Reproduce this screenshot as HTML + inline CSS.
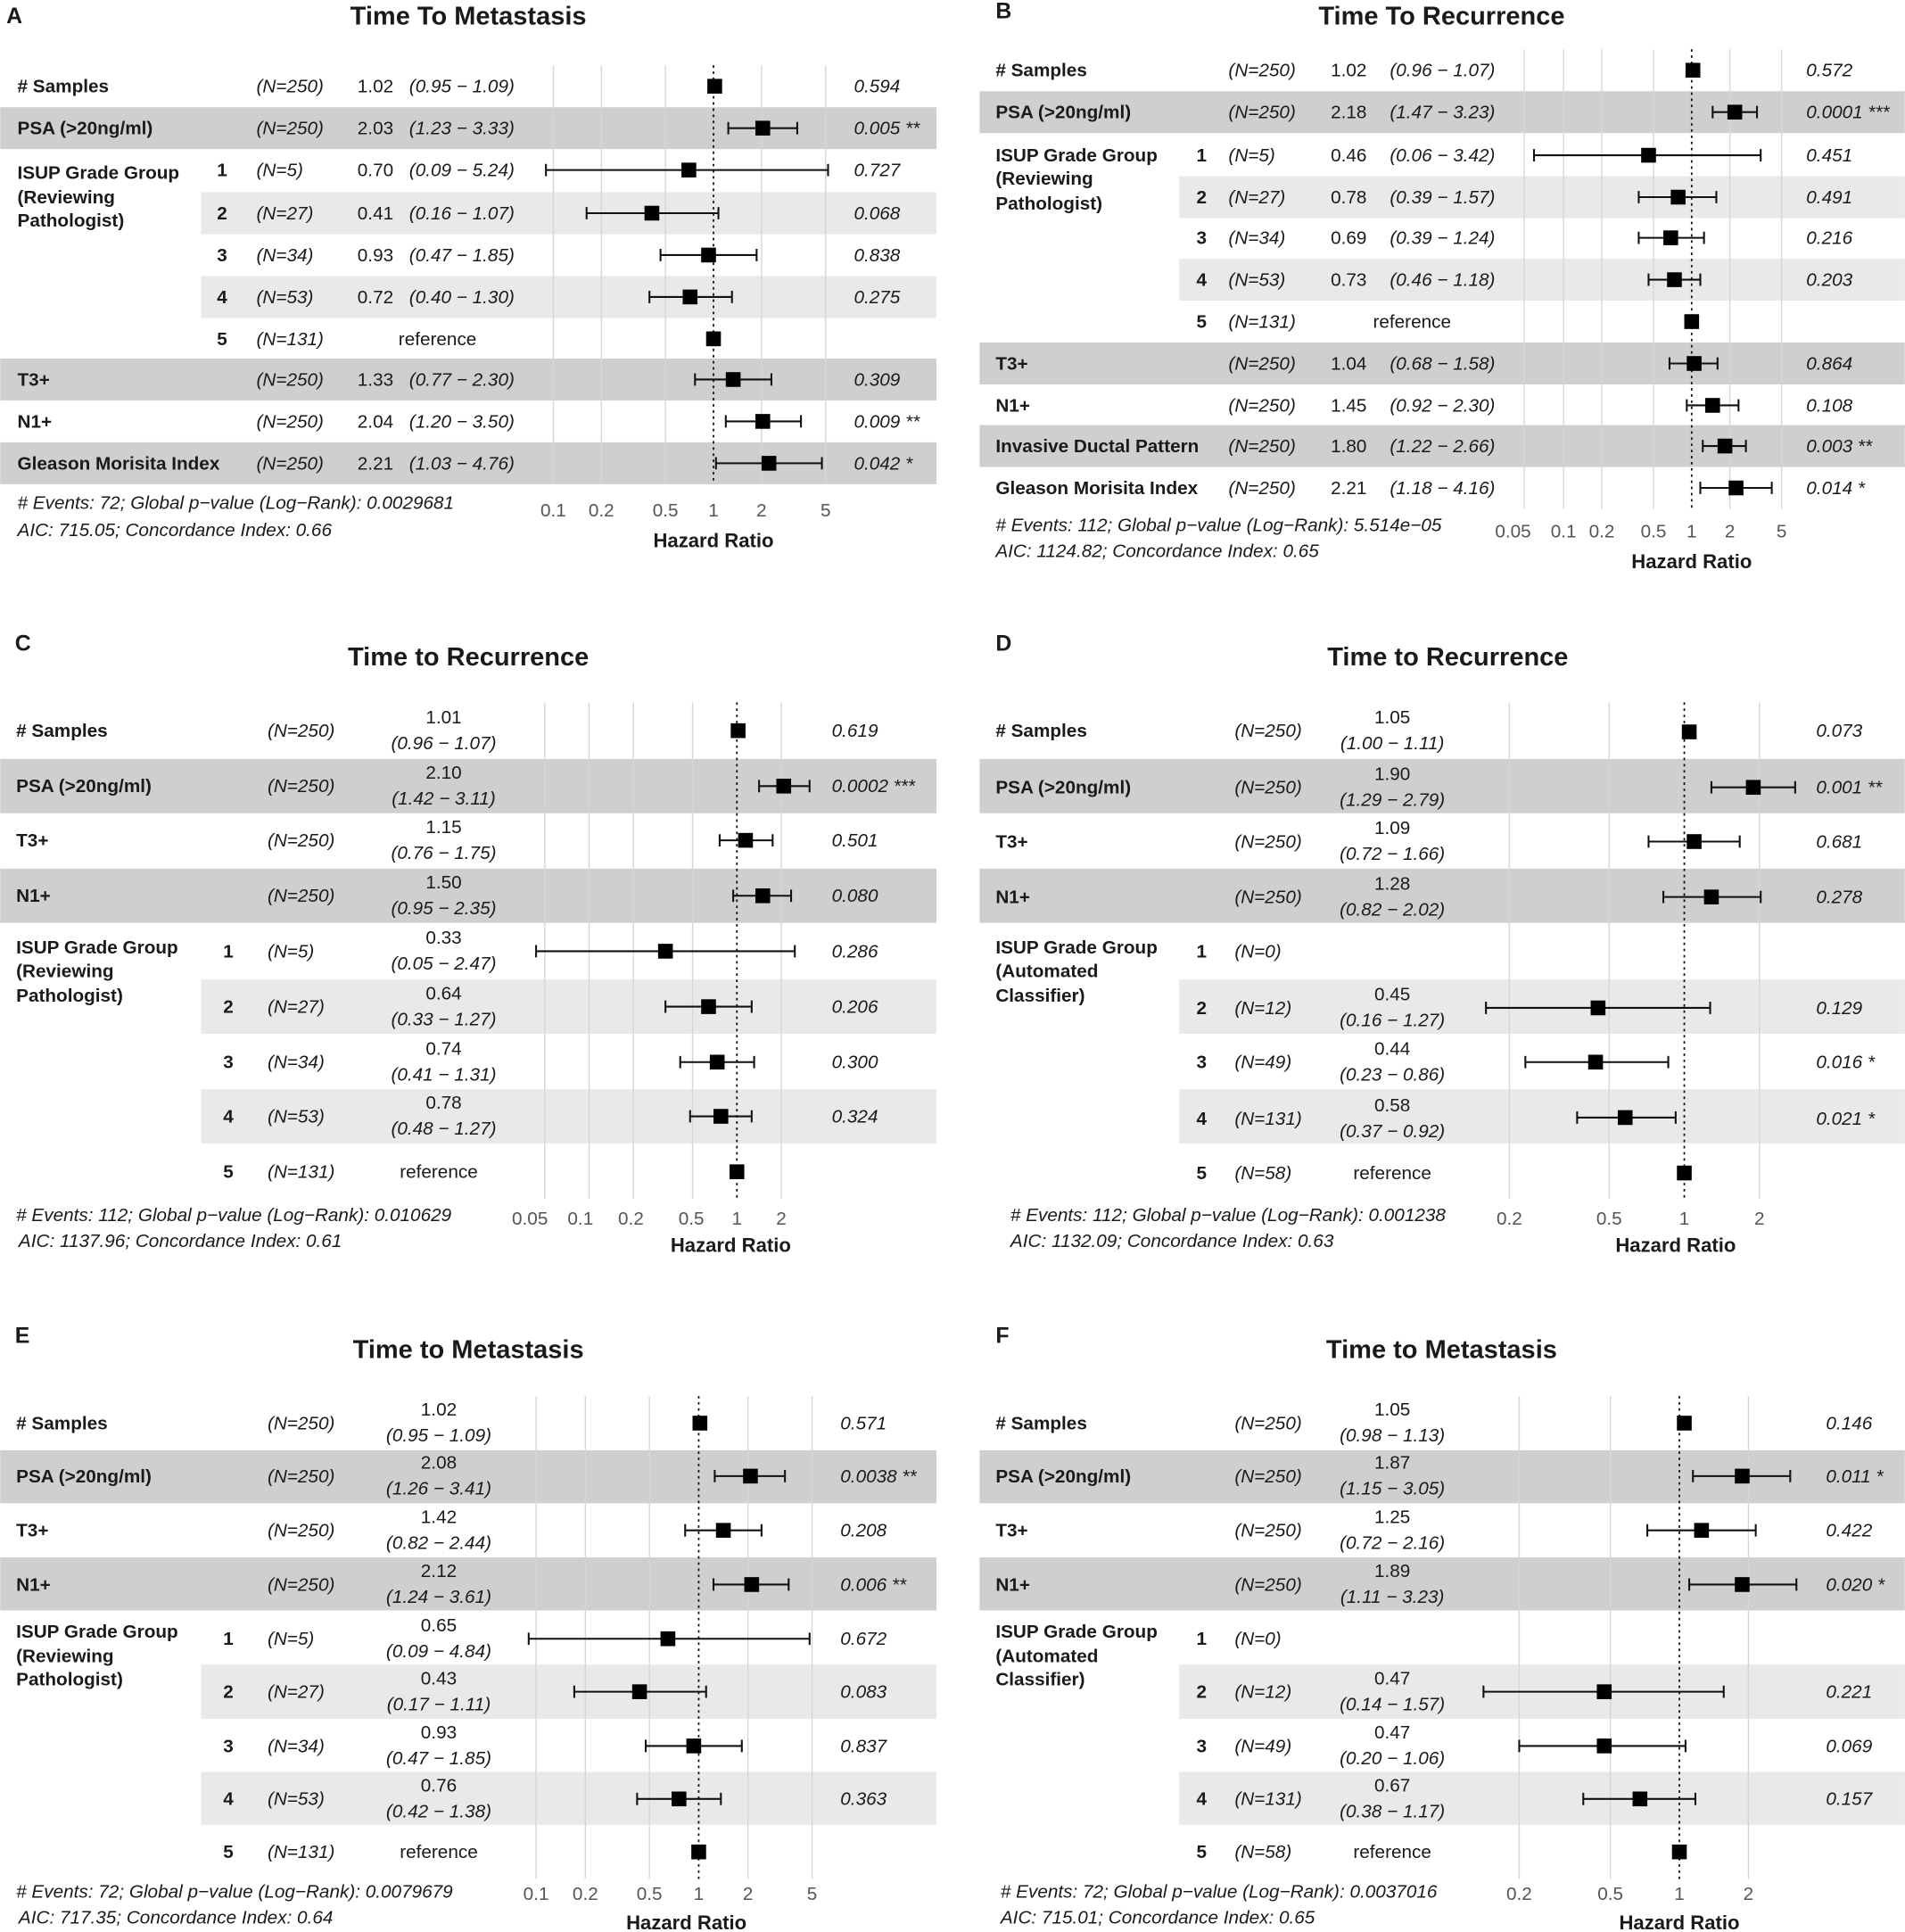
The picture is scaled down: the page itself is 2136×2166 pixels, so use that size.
<!DOCTYPE html>
<html><head><meta charset="utf-8"><style>
html,body{margin:0;padding:0;background:#fff}
svg{display:block}
text{font-family:"Liberation Sans",Arial,sans-serif;font-size:15px;fill:#1a1a1a}
.b{font-weight:bold}
.i{font-style:italic}
.ti{font-size:21px;font-weight:bold;text-anchor:middle}
.pl{font-size:18px;font-weight:bold}
.tk{fill:#555;text-anchor:middle;font-size:15px}
.hr{font-weight:bold;text-anchor:middle;font-size:16px}
.m{text-anchor:middle}
.g{stroke:#d6d6d6;stroke-width:1}
.z{stroke:#111;stroke-width:1.3;stroke-dasharray:2,3}
.e{stroke:#111;stroke-width:1.5;fill:none}
.dk{fill:#cfcfcf}
.lt{fill:#e9e9e9}
</style></head><body>
<svg width="2136" height="2166" viewBox="0 0 1546 1568" xmlns="http://www.w3.org/2000/svg">

<!-- ===== PANEL A ===== -->
<text x="5" y="19" class="pl">A</text>
<text x="380" y="20" class="ti">Time To Metastasis</text>
<rect class="dk" x="0" y="87" width="760" height="34"/>
<rect class="lt" x="163" y="156" width="597" height="34"/>
<rect class="lt" x="163" y="224" width="597" height="34"/>
<rect class="dk" x="0" y="291" width="760" height="34"/>
<rect class="dk" x="0" y="359" width="760" height="34"/>
<g>
<line class="g" x1="449" y1="53" x2="449" y2="393"/><line class="g" x1="488" y1="53" x2="488" y2="393"/>
<line class="g" x1="540" y1="53" x2="540" y2="393"/><line class="g" x1="618" y1="53" x2="618" y2="393"/>
<line class="g" x1="670" y1="53" x2="670" y2="393"/><line class="z" x1="579" y1="53" x2="579" y2="393"/>
</g>
<g>
<text x="14" y="75" class="b"># Samples</text><text x="208" y="75" class="i">(N=250)</text><text x="290" y="75">1.02</text><text x="332" y="75" class="i">(0.95 − 1.09)</text><text x="693" y="75" class="i">0.594</text>
<text x="14" y="109" class="b">PSA (&gt;20ng/ml)</text><text x="208" y="109" class="i">(N=250)</text><text x="290" y="109">2.03</text><text x="332" y="109" class="i">(1.23 − 3.33)</text><text x="693" y="109" class="i">0.005 **</text>
<text x="14" y="145" class="b">ISUP Grade Group</text><text x="14" y="165" class="b">(Reviewing</text><text x="14" y="184" class="b">Pathologist)</text>
<text x="176" y="143" class="b">1</text><text x="208" y="143" class="i">(N=5)</text><text x="290" y="143">0.70</text><text x="332" y="143" class="i">(0.09 − 5.24)</text><text x="693" y="143" class="i">0.727</text>
<text x="176" y="178" class="b">2</text><text x="208" y="178" class="i">(N=27)</text><text x="290" y="178">0.41</text><text x="332" y="178" class="i">(0.16 − 1.07)</text><text x="693" y="178" class="i">0.068</text>
<text x="176" y="212" class="b">3</text><text x="208" y="212" class="i">(N=34)</text><text x="290" y="212">0.93</text><text x="332" y="212" class="i">(0.47 − 1.85)</text><text x="693" y="212" class="i">0.838</text>
<text x="176" y="246" class="b">4</text><text x="208" y="246" class="i">(N=53)</text><text x="290" y="246">0.72</text><text x="332" y="246" class="i">(0.40 − 1.30)</text><text x="693" y="246" class="i">0.275</text>
<text x="176" y="280" class="b">5</text><text x="208" y="280" class="i">(N=131)</text><text x="355" y="280" class="m">reference</text>
<text x="14" y="313" class="b">T3+</text><text x="208" y="313" class="i">(N=250)</text><text x="290" y="313">1.33</text><text x="332" y="313" class="i">(0.77 − 2.30)</text><text x="693" y="313" class="i">0.309</text>
<text x="14" y="347" class="b">N1+</text><text x="208" y="347" class="i">(N=250)</text><text x="290" y="347">2.04</text><text x="332" y="347" class="i">(1.20 − 3.50)</text><text x="693" y="347" class="i">0.009 **</text>
<text x="14" y="381" class="b">Gleason Morisita Index</text><text x="208" y="381" class="i">(N=250)</text><text x="290" y="381">2.21</text><text x="332" y="381" class="i">(1.03 − 4.76)</text><text x="693" y="381" class="i">0.042 *</text>
</g>
<path class="e" d="M591 104H647M591 99v10M647 99v10 M443 138H672M443 133v10M672 133v10 M476 173H583M476 168v10M583 168v10 M536 207H614M536 202v10M614 202v10 M527 241H594M527 236v10M594 236v10 M564 308H626M564 303v10M626 303v10 M589 342H650M589 337v10M650 337v10 M581 376H667M581 371v10M667 371v10"/>
<g fill="#000"><rect x="574" y="64" width="12" height="12"/><rect x="613" y="98" width="12" height="12"/><rect x="553" y="132" width="12" height="12"/><rect x="523" y="167" width="12" height="12"/><rect x="569" y="201" width="12" height="12"/><rect x="554" y="235" width="12" height="12"/><rect x="573" y="269" width="12" height="12"/><rect x="589" y="302" width="12" height="12"/><rect x="613" y="336" width="12" height="12"/><rect x="618" y="370" width="12" height="12"/></g>
<text x="14" y="413" class="i" font-size="14">
# Events: 72; Global p−value (Log−Rank): 0.0029681</text>
<text x="14" y="435" class="i" font-size="14">AIC: 715.05; Concordance Index: 0.66</text>
<text x="449" y="419" class="tk">0.1</text><text x="488" y="419" class="tk">0.2</text><text x="540" y="419" class="tk">0.5</text><text x="579" y="419" class="tk">1</text><text x="618" y="419" class="tk">2</text><text x="670" y="419" class="tk">5</text>
<text x="579" y="444" class="hr">Hazard Ratio</text>

<!-- ===== PANEL B ===== -->
<text x="808" y="15" class="pl">B</text>
<text x="1170" y="20" class="ti">Time To Recurrence</text>
<rect class="dk" x="795" y="74" width="751" height="34"/>
<rect class="lt" x="957" y="143" width="589" height="34"/>
<rect class="lt" x="957" y="210" width="589" height="34"/>
<rect class="dk" x="795" y="278" width="751" height="34"/>
<rect class="dk" x="795" y="345" width="751" height="34"/>
<g>
<line class="g" x1="1237" y1="40" x2="1237" y2="413"/><line class="g" x1="1269" y1="40" x2="1269" y2="413"/><line class="g" x1="1300" y1="40" x2="1300" y2="413"/>
<line class="g" x1="1342" y1="40" x2="1342" y2="413"/><line class="g" x1="1404" y1="40" x2="1404" y2="413"/><line class="g" x1="1446" y1="40" x2="1446" y2="413"/>
<line class="z" x1="1373" y1="40" x2="1373" y2="413"/>
</g>
<g>
<text x="808" y="62" class="b"># Samples</text><text x="997" y="62" class="i">(N=250)</text><text x="1080" y="62">1.02</text><text x="1128" y="62" class="i">(0.96 − 1.07)</text><text x="1466" y="62" class="i">0.572</text>
<text x="808" y="96" class="b">PSA (&gt;20ng/ml)</text><text x="997" y="96" class="i">(N=250)</text><text x="1080" y="96">2.18</text><text x="1128" y="96" class="i">(1.47 − 3.23)</text><text x="1466" y="96" class="i">0.0001 ***</text>
<text x="808" y="131" class="b">ISUP Grade Group</text><text x="808" y="150" class="b">(Reviewing</text><text x="808" y="170" class="b">Pathologist)</text>
<text x="971" y="131" class="b">1</text><text x="997" y="131" class="i">(N=5)</text><text x="1080" y="131">0.46</text><text x="1128" y="131" class="i">(0.06 − 3.42)</text><text x="1466" y="131" class="i">0.451</text>
<text x="971" y="165" class="b">2</text><text x="997" y="165" class="i">(N=27)</text><text x="1080" y="165">0.78</text><text x="1128" y="165" class="i">(0.39 − 1.57)</text><text x="1466" y="165" class="i">0.491</text>
<text x="971" y="198" class="b">3</text><text x="997" y="198" class="i">(N=34)</text><text x="1080" y="198">0.69</text><text x="1128" y="198" class="i">(0.39 − 1.24)</text><text x="1466" y="198" class="i">0.216</text>
<text x="971" y="232" class="b">4</text><text x="997" y="232" class="i">(N=53)</text><text x="1080" y="232">0.73</text><text x="1128" y="232" class="i">(0.46 − 1.18)</text><text x="1466" y="232" class="i">0.203</text>
<text x="971" y="266" class="b">5</text><text x="997" y="266" class="i">(N=131)</text><text x="1146" y="266" class="m">reference</text>
<text x="808" y="300" class="b">T3+</text><text x="997" y="300" class="i">(N=250)</text><text x="1080" y="300">1.04</text><text x="1128" y="300" class="i">(0.68 − 1.58)</text><text x="1466" y="300" class="i">0.864</text>
<text x="808" y="334" class="b">N1+</text><text x="997" y="334" class="i">(N=250)</text><text x="1080" y="334">1.45</text><text x="1128" y="334" class="i">(0.92 − 2.30)</text><text x="1466" y="334" class="i">0.108</text>
<text x="808" y="367" class="b">Invasive Ductal Pattern</text><text x="997" y="367" class="i">(N=250)</text><text x="1080" y="367">1.80</text><text x="1128" y="367" class="i">(1.22 − 2.66)</text><text x="1466" y="367" class="i">0.003 **</text>
<text x="808" y="401" class="b">Gleason Morisita Index</text><text x="997" y="401" class="i">(N=250)</text><text x="1080" y="401">2.21</text><text x="1128" y="401" class="i">(1.18 − 4.16)</text><text x="1466" y="401" class="i">0.014 *</text>
</g>
<path class="e" d="M1390 91H1426M1390 86v10M1426 86v10 M1245 126H1429M1245 121v10M1429 121v10 M1330 160H1393M1330 155v10M1393 155v10 M1330 193H1383M1330 188v10M1383 188v10 M1338 227H1380M1338 222v10M1380 222v10 M1355 295H1394M1355 290v10M1394 290v10 M1369 329H1411M1369 324v10M1411 324v10 M1382 362H1417M1382 357v10M1417 357v10 M1380 396H1438M1380 391v10M1438 391v10"/>
<g fill="#000"><rect x="1368" y="51" width="12" height="12"/><rect x="1402" y="85" width="12" height="12"/><rect x="1332" y="120" width="12" height="12"/><rect x="1356" y="154" width="12" height="12"/><rect x="1350" y="187" width="12" height="12"/><rect x="1353" y="221" width="12" height="12"/><rect x="1367" y="255" width="12" height="12"/><rect x="1369" y="289" width="12" height="12"/><rect x="1384" y="323" width="12" height="12"/><rect x="1394" y="356" width="12" height="12"/><rect x="1403" y="390" width="12" height="12"/></g>
<text x="808" y="431" class="i" font-size="14"># Events: 112; Global p−value (Log−Rank): 5.514e−05</text>
<text x="808" y="452" class="i" font-size="14">AIC: 1124.82; Concordance Index: 0.65</text>
<text x="1228" y="436" class="tk">0.05</text><text x="1269" y="436" class="tk">0.1</text><text x="1300" y="436" class="tk">0.2</text><text x="1342" y="436" class="tk">0.5</text><text x="1373" y="436" class="tk">1</text><text x="1404" y="436" class="tk">2</text><text x="1446" y="436" class="tk">5</text>
<text x="1373" y="461" class="hr">Hazard Ratio</text>

<!-- ===== PANEL C ===== -->
<text x="12" y="528" class="pl">C</text>
<text x="380" y="540" class="ti">Time to Recurrence</text>
<rect class="dk" x="0" y="616" width="760" height="44"/>
<rect class="dk" x="0" y="705" width="760" height="44"/>
<rect class="lt" x="163" y="795" width="597" height="44"/>
<rect class="lt" x="163" y="884" width="597" height="44"/>
<g>
<line class="g" x1="442" y1="570" x2="442" y2="973"/><line class="g" x1="478" y1="570" x2="478" y2="973"/><line class="g" x1="514" y1="570" x2="514" y2="973"/>
<line class="g" x1="562" y1="570" x2="562" y2="973"/><line class="g" x1="634" y1="570" x2="634" y2="973"/>
<line class="z" x1="598" y1="570" x2="598" y2="973"/>
</g>
<g>
<text x="13" y="598" class="b"># Samples</text><text x="217" y="598" class="i">(N=250)</text><text x="360" y="587" class="m">1.01</text><text x="360" y="608" class="m i">(0.96 − 1.07)</text><text x="675" y="598" class="i">0.619</text>
<text x="13" y="643" class="b">PSA (&gt;20ng/ml)</text><text x="217" y="643" class="i">(N=250)</text><text x="360" y="632" class="m">2.10</text><text x="360" y="653" class="m i">(1.42 − 3.11)</text><text x="675" y="643" class="i">0.0002 ***</text>
<text x="13" y="687" class="b">T3+</text><text x="217" y="687" class="i">(N=250)</text><text x="360" y="676" class="m">1.15</text><text x="360" y="697" class="m i">(0.76 − 1.75)</text><text x="675" y="687" class="i">0.501</text>
<text x="13" y="732" class="b">N1+</text><text x="217" y="732" class="i">(N=250)</text><text x="360" y="721" class="m">1.50</text><text x="360" y="742" class="m i">(0.95 − 2.35)</text><text x="675" y="732" class="i">0.080</text>
<text x="13" y="774" class="b">ISUP Grade Group</text><text x="13" y="793" class="b">(Reviewing</text><text x="13" y="813" class="b">Pathologist)</text>
<text x="181" y="777" class="b">1</text><text x="217" y="777" class="i">(N=5)</text><text x="360" y="766" class="m">0.33</text><text x="360" y="787" class="m i">(0.05 − 2.47)</text><text x="675" y="777" class="i">0.286</text>
<text x="181" y="822" class="b">2</text><text x="217" y="822" class="i">(N=27)</text><text x="360" y="811" class="m">0.64</text><text x="360" y="832" class="m i">(0.33 − 1.27)</text><text x="675" y="822" class="i">0.206</text>
<text x="181" y="867" class="b">3</text><text x="217" y="867" class="i">(N=34)</text><text x="360" y="856" class="m">0.74</text><text x="360" y="877" class="m i">(0.41 − 1.31)</text><text x="675" y="867" class="i">0.300</text>
<text x="181" y="911" class="b">4</text><text x="217" y="911" class="i">(N=53)</text><text x="360" y="900" class="m">0.78</text><text x="360" y="921" class="m i">(0.48 − 1.27)</text><text x="675" y="911" class="i">0.324</text>
<text x="181" y="956" class="b">5</text><text x="217" y="956" class="i">(N=131)</text><text x="356" y="956" class="m">reference</text>
</g>
<path class="e" d="M616 638H657M616 633v10M657 633v10 M584 682H627M584 677v10M627 677v10 M595 727H642M595 722v10M642 722v10 M435 772H645M435 767v10M645 767v10 M540 817H610M540 812v10M610 812v10 M552 862H612M552 857v10M612 857v10 M560 906H610M560 901v10M610 901v10"/>
<g fill="#000"><rect x="593" y="587" width="12" height="12"/><rect x="630" y="632" width="12" height="12"/><rect x="599" y="676" width="12" height="12"/><rect x="613" y="721" width="12" height="12"/><rect x="534" y="766" width="12" height="12"/><rect x="569" y="811" width="12" height="12"/><rect x="576" y="856" width="12" height="12"/><rect x="579" y="900" width="12" height="12"/><rect x="592" y="945" width="12" height="12"/></g>
<text x="13" y="991" class="i" font-size="14"># Events: 112; Global p−value (Log−Rank): 0.010629</text>
<text x="15" y="1012" class="i" font-size="14">AIC: 1137.96; Concordance Index: 0.61</text>
<text x="430" y="994" class="tk">0.05</text><text x="471" y="994" class="tk">0.1</text><text x="512" y="994" class="tk">0.2</text><text x="561" y="994" class="tk">0.5</text><text x="598" y="994" class="tk">1</text><text x="634" y="994" class="tk">2</text>
<text x="593" y="1016" class="hr">Hazard Ratio</text>

<!-- ===== PANEL D ===== -->
<text x="808" y="528" class="pl">D</text>
<text x="1175" y="540" class="ti">Time to Recurrence</text>
<rect class="dk" x="795" y="616" width="751" height="44"/>
<rect class="dk" x="795" y="705" width="751" height="44"/>
<rect class="lt" x="957" y="795" width="589" height="44"/>
<rect class="lt" x="957" y="884" width="589" height="44"/>
<g>
<line class="g" x1="1225" y1="570" x2="1225" y2="973"/><line class="g" x1="1306" y1="570" x2="1306" y2="973"/><line class="g" x1="1428" y1="570" x2="1428" y2="973"/>
<line class="z" x1="1367" y1="570" x2="1367" y2="973"/>
</g>
<g>
<text x="808" y="598" class="b"># Samples</text><text x="1002" y="598" class="i">(N=250)</text><text x="1130" y="587" class="m">1.05</text><text x="1130" y="608" class="m i">(1.00 − 1.11)</text><text x="1474" y="598" class="i">0.073</text>
<text x="808" y="644" class="b">PSA (&gt;20ng/ml)</text><text x="1002" y="644" class="i">(N=250)</text><text x="1130" y="633" class="m">1.90</text><text x="1130" y="654" class="m i">(1.29 − 2.79)</text><text x="1474" y="644" class="i">0.001 **</text>
<text x="808" y="688" class="b">T3+</text><text x="1002" y="688" class="i">(N=250)</text><text x="1130" y="677" class="m">1.09</text><text x="1130" y="698" class="m i">(0.72 − 1.66)</text><text x="1474" y="688" class="i">0.681</text>
<text x="808" y="733" class="b">N1+</text><text x="1002" y="733" class="i">(N=250)</text><text x="1130" y="722" class="m">1.28</text><text x="1130" y="743" class="m i">(0.82 − 2.02)</text><text x="1474" y="733" class="i">0.278</text>
<text x="808" y="774" class="b">ISUP Grade Group</text><text x="808" y="793" class="b">(Automated</text><text x="808" y="813" class="b">Classifier)</text>
<text x="971" y="777" class="b">1</text><text x="1002" y="777" class="i">(N=0)</text>
<text x="971" y="823" class="b">2</text><text x="1002" y="823" class="i">(N=12)</text><text x="1130" y="812" class="m">0.45</text><text x="1130" y="833" class="m i">(0.16 − 1.27)</text><text x="1474" y="823" class="i">0.129</text>
<text x="971" y="867" class="b">3</text><text x="1002" y="867" class="i">(N=49)</text><text x="1130" y="856" class="m">0.44</text><text x="1130" y="877" class="m i">(0.23 − 0.86)</text><text x="1474" y="867" class="i">0.016 *</text>
<text x="971" y="913" class="b">4</text><text x="1002" y="913" class="i">(N=131)</text><text x="1130" y="902" class="m">0.58</text><text x="1130" y="923" class="m i">(0.37 − 0.92)</text><text x="1474" y="913" class="i">0.021 *</text>
<text x="971" y="957" class="b">5</text><text x="1002" y="957" class="i">(N=58)</text><text x="1130" y="957" class="m">reference</text>
</g>
<path class="e" d="M1389 639H1457M1389 634v10M1457 634v10 M1338 683H1412M1338 678v10M1412 678v10 M1350 728H1429M1350 723v10M1429 723v10 M1206 818H1388M1206 813v10M1388 813v10 M1238 862H1354M1238 857v10M1354 857v10 M1280 907H1360M1280 902v10M1360 902v10"/>
<g fill="#000"><rect x="1365" y="588" width="12" height="12"/><rect x="1417" y="633" width="12" height="12"/><rect x="1369" y="677" width="12" height="12"/><rect x="1383" y="722" width="12" height="12"/><rect x="1291" y="812" width="12" height="12"/><rect x="1289" y="856" width="12" height="12"/><rect x="1313" y="901" width="12" height="12"/><rect x="1361" y="946" width="12" height="12"/></g>
<text x="820" y="991" class="i" font-size="14"># Events: 112; Global p−value (Log−Rank): 0.001238</text>
<text x="820" y="1012" class="i" font-size="14">AIC: 1132.09; Concordance Index: 0.63</text>
<text x="1225" y="994" class="tk">0.2</text><text x="1306" y="994" class="tk">0.5</text><text x="1367" y="994" class="tk">1</text><text x="1428" y="994" class="tk">2</text>
<text x="1360" y="1016" class="hr">Hazard Ratio</text>

<!-- ===== PANEL E ===== -->
<text x="12" y="1090" class="pl">E</text>
<text x="380" y="1102" class="ti">Time to Metastasis</text>
<rect class="dk" x="0" y="1177" width="760" height="43"/>
<rect class="dk" x="0" y="1264" width="760" height="43"/>
<rect class="lt" x="163" y="1351" width="597" height="44"/>
<rect class="lt" x="163" y="1438" width="597" height="43"/>
<g>
<line class="g" x1="435" y1="1133" x2="435" y2="1525"/><line class="g" x1="475" y1="1133" x2="475" y2="1525"/><line class="g" x1="527" y1="1133" x2="527" y2="1525"/>
<line class="g" x1="607" y1="1133" x2="607" y2="1525"/><line class="g" x1="659" y1="1133" x2="659" y2="1525"/>
<line class="z" x1="567" y1="1133" x2="567" y2="1525"/>
</g>
<g>
<text x="13" y="1160" class="b"># Samples</text><text x="217" y="1160" class="i">(N=250)</text><text x="356" y="1149" class="m">1.02</text><text x="356" y="1170" class="m i">(0.95 − 1.09)</text><text x="682" y="1160" class="i">0.571</text>
<text x="13" y="1203" class="b">PSA (&gt;20ng/ml)</text><text x="217" y="1203" class="i">(N=250)</text><text x="356" y="1192" class="m">2.08</text><text x="356" y="1213" class="m i">(1.26 − 3.41)</text><text x="682" y="1203" class="i">0.0038 **</text>
<text x="13" y="1247" class="b">T3+</text><text x="217" y="1247" class="i">(N=250)</text><text x="356" y="1236" class="m">1.42</text><text x="356" y="1257" class="m i">(0.82 − 2.44)</text><text x="682" y="1247" class="i">0.208</text>
<text x="13" y="1291" class="b">N1+</text><text x="217" y="1291" class="i">(N=250)</text><text x="356" y="1280" class="m">2.12</text><text x="356" y="1301" class="m i">(1.24 − 3.61)</text><text x="682" y="1291" class="i">0.006 **</text>
<text x="13" y="1329" class="b">ISUP Grade Group</text><text x="13" y="1349" class="b">(Reviewing</text><text x="13" y="1368" class="b">Pathologist)</text>
<text x="181" y="1335" class="b">1</text><text x="217" y="1335" class="i">(N=5)</text><text x="356" y="1324" class="m">0.65</text><text x="356" y="1345" class="m i">(0.09 − 4.84)</text><text x="682" y="1335" class="i">0.672</text>
<text x="181" y="1378" class="b">2</text><text x="217" y="1378" class="i">(N=27)</text><text x="356" y="1367" class="m">0.43</text><text x="356" y="1388" class="m i">(0.17 − 1.11)</text><text x="682" y="1378" class="i">0.083</text>
<text x="181" y="1422" class="b">3</text><text x="217" y="1422" class="i">(N=34)</text><text x="356" y="1411" class="m">0.93</text><text x="356" y="1432" class="m i">(0.47 − 1.85)</text><text x="682" y="1422" class="i">0.837</text>
<text x="181" y="1465" class="b">4</text><text x="217" y="1465" class="i">(N=53)</text><text x="356" y="1454" class="m">0.76</text><text x="356" y="1475" class="m i">(0.42 − 1.38)</text><text x="682" y="1465" class="i">0.363</text>
<text x="181" y="1508" class="b">5</text><text x="217" y="1508" class="i">(N=131)</text><text x="356" y="1508" class="m">reference</text>
</g>
<path class="e" d="M580 1198H637M580 1193v10M637 1193v10 M556 1242H618M556 1237v10M618 1237v10 M579 1286H640M579 1281v10M640 1281v10 M429 1330H657M429 1325v10M657 1325v10 M466 1373H573M466 1368v10M573 1368v10 M524 1417H602M524 1412v10M602 1412v10 M517 1460H585M517 1455v10M585 1455v10"/>
<g fill="#000"><rect x="562" y="1149" width="12" height="12"/><rect x="603" y="1192" width="12" height="12"/><rect x="581" y="1236" width="12" height="12"/><rect x="604" y="1280" width="12" height="12"/><rect x="536" y="1324" width="12" height="12"/><rect x="513" y="1367" width="12" height="12"/><rect x="557" y="1411" width="12" height="12"/><rect x="545" y="1454" width="12" height="12"/><rect x="561" y="1497" width="12" height="12"/></g>
<text x="13" y="1540" class="i" font-size="14"># Events: 72; Global p−value (Log−Rank): 0.0079679</text>
<text x="15" y="1561" class="i" font-size="14">AIC: 717.35; Concordance Index: 0.64</text>
<text x="435" y="1542" class="tk">0.1</text><text x="475" y="1542" class="tk">0.2</text><text x="527" y="1542" class="tk">0.5</text><text x="567" y="1542" class="tk">1</text><text x="607" y="1542" class="tk">2</text><text x="659" y="1542" class="tk">5</text>
<text x="557" y="1566" class="hr">Hazard Ratio</text>

<!-- ===== PANEL F ===== -->
<text x="808" y="1090" class="pl">F</text>
<text x="1170" y="1102" class="ti">Time to Metastasis</text>
<rect class="dk" x="795" y="1177" width="751" height="43"/>
<rect class="dk" x="795" y="1264" width="751" height="43"/>
<rect class="lt" x="957" y="1351" width="589" height="44"/>
<rect class="lt" x="957" y="1438" width="589" height="43"/>
<g>
<line class="g" x1="1233" y1="1133" x2="1233" y2="1525"/><line class="g" x1="1307" y1="1133" x2="1307" y2="1525"/><line class="g" x1="1419" y1="1133" x2="1419" y2="1525"/>
<line class="z" x1="1363" y1="1133" x2="1363" y2="1525"/>
</g>
<g>
<text x="808" y="1160" class="b"># Samples</text><text x="1002" y="1160" class="i">(N=250)</text><text x="1130" y="1149" class="m">1.05</text><text x="1130" y="1170" class="m i">(0.98 − 1.13)</text><text x="1482" y="1160" class="i">0.146</text>
<text x="808" y="1203" class="b">PSA (&gt;20ng/ml)</text><text x="1002" y="1203" class="i">(N=250)</text><text x="1130" y="1192" class="m">1.87</text><text x="1130" y="1213" class="m i">(1.15 − 3.05)</text><text x="1482" y="1203" class="i">0.011 *</text>
<text x="808" y="1247" class="b">T3+</text><text x="1002" y="1247" class="i">(N=250)</text><text x="1130" y="1236" class="m">1.25</text><text x="1130" y="1257" class="m i">(0.72 − 2.16)</text><text x="1482" y="1247" class="i">0.422</text>
<text x="808" y="1291" class="b">N1+</text><text x="1002" y="1291" class="i">(N=250)</text><text x="1130" y="1280" class="m">1.89</text><text x="1130" y="1301" class="m i">(1.11 − 3.23)</text><text x="1482" y="1291" class="i">0.020 *</text>
<text x="808" y="1329" class="b">ISUP Grade Group</text><text x="808" y="1349" class="b">(Automated</text><text x="808" y="1368" class="b">Classifier)</text>
<text x="971" y="1335" class="b">1</text><text x="1002" y="1335" class="i">(N=0)</text>
<text x="971" y="1378" class="b">2</text><text x="1002" y="1378" class="i">(N=12)</text><text x="1130" y="1367" class="m">0.47</text><text x="1130" y="1388" class="m i">(0.14 − 1.57)</text><text x="1482" y="1378" class="i">0.221</text>
<text x="971" y="1422" class="b">3</text><text x="1002" y="1422" class="i">(N=49)</text><text x="1130" y="1411" class="m">0.47</text><text x="1130" y="1432" class="m i">(0.20 − 1.06)</text><text x="1482" y="1422" class="i">0.069</text>
<text x="971" y="1465" class="b">4</text><text x="1002" y="1465" class="i">(N=131)</text><text x="1130" y="1454" class="m">0.67</text><text x="1130" y="1475" class="m i">(0.38 − 1.17)</text><text x="1482" y="1465" class="i">0.157</text>
<text x="971" y="1508" class="b">5</text><text x="1002" y="1508" class="i">(N=58)</text><text x="1130" y="1508" class="m">reference</text>
</g>
<path class="e" d="M1374 1198H1453M1374 1193v10M1453 1193v10 M1337 1242H1425M1337 1237v10M1425 1237v10 M1371 1286H1458M1371 1281v10M1458 1281v10 M1204 1373H1399M1204 1368v10M1399 1368v10 M1233 1417H1368M1233 1412v10M1368 1412v10 M1285 1460H1376M1285 1455v10M1376 1455v10"/>
<g fill="#000"><rect x="1361" y="1149" width="12" height="12"/><rect x="1408" y="1192" width="12" height="12"/><rect x="1375" y="1236" width="12" height="12"/><rect x="1408" y="1280" width="12" height="12"/><rect x="1296" y="1367" width="12" height="12"/><rect x="1296" y="1411" width="12" height="12"/><rect x="1325" y="1454" width="12" height="12"/><rect x="1357" y="1497" width="12" height="12"/></g>
<text x="812" y="1540" class="i" font-size="14"># Events: 72; Global p−value (Log−Rank): 0.0037016</text>
<text x="812" y="1561" class="i" font-size="14">AIC: 715.01; Concordance Index: 0.65</text>
<text x="1233" y="1542" class="tk">0.2</text><text x="1307" y="1542" class="tk">0.5</text><text x="1363" y="1542" class="tk">1</text><text x="1419" y="1542" class="tk">2</text>
<text x="1363" y="1566" class="hr">Hazard Ratio</text>
</svg>
</body></html>
